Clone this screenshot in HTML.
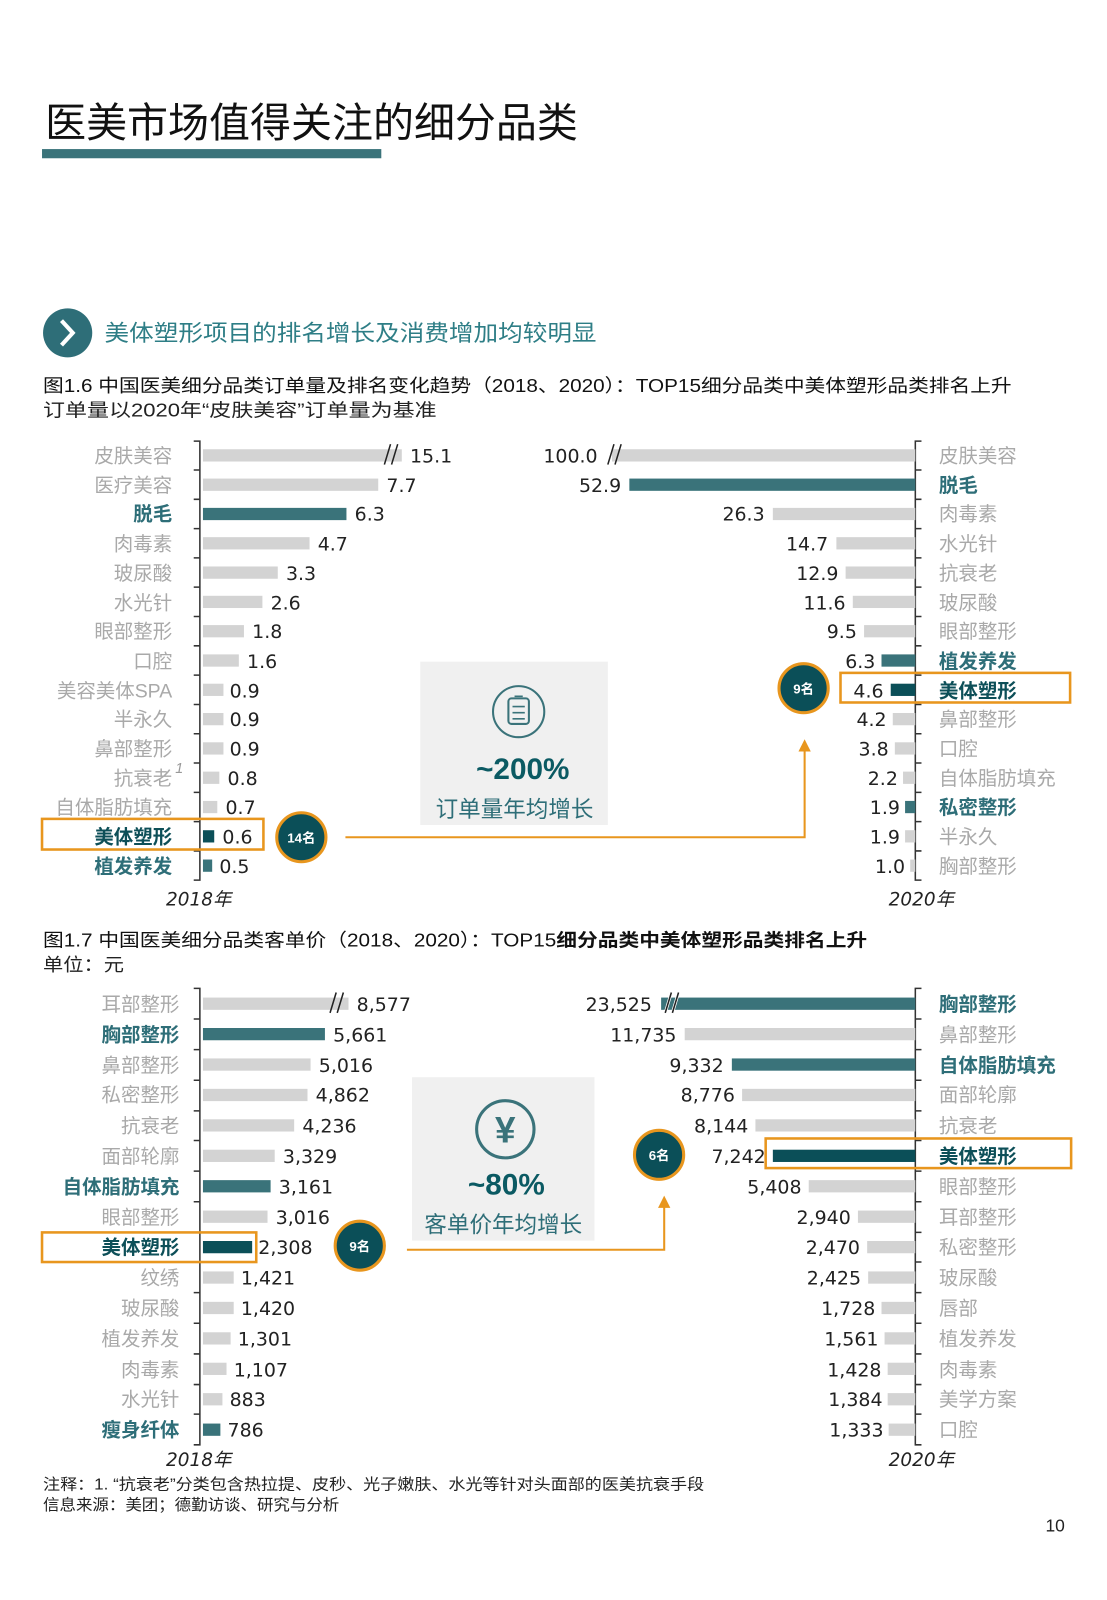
<!DOCTYPE html>
<html><head><meta charset="utf-8"><style>
html,body{margin:0;padding:0;background:#fff;}
svg{display:block;}
text{font-family:"Liberation Sans","Noto Sans CJK SC",sans-serif;}
.lg{fill:#a9a9a9;font-size:19px;}
.lt{fill:#2e6e78;font-size:19px;font-weight:bold;}
.ld{fill:#0d4f58;font-size:19px;font-weight:bold;}
.v{fill:#222;font-size:18.5px;font-family:"DejaVu Sans","Noto Sans CJK SC",sans-serif;}
.g{fill:#d3d3d3;}.t{fill:#3a737a;}.d{fill:#0b4f58;}
.ax{stroke:#333;stroke-width:1.5;fill:none;}
.yr{font-size:18px;font-style:italic;fill:#222;font-family:"DejaVu Sans","Noto Sans CJK SC",sans-serif;}
</style></head><body>
<svg width="1107" height="1600" viewBox="0 0 1080 1567" preserveAspectRatio="none" xmlns="http://www.w3.org/2000/svg">
<text x="44" y="134" font-size="40" fill="#111">医美市场值得关注的细分品类</text>
<rect x="41" y="146" width="331" height="9" fill="#3a737a"/>
<circle cx="66" cy="326" r="24" fill="#2e6e78"/>
<path d="M60 314 L71 326 L60 338" stroke="#fff" stroke-width="4" fill="none"/>
<text x="102" y="334" font-size="22" fill="#2e7e86" textLength="480" lengthAdjust="spacingAndGlyphs">美体塑形项目的排名增长及消费增加均较明显</text>
<text x="42" y="384" font-size="18" fill="#111" textLength="945" lengthAdjust="spacingAndGlyphs">图1.6 中国医美细分品类订单量及排名变化趋势（2018、2020）：TOP15细分品类中美体塑形品类排名上升</text>
<text x="42" y="408" font-size="18" fill="#222" textLength="384" lengthAdjust="spacingAndGlyphs">订单量以2020年“皮肤美容”订单量为基准</text>

<!-- chart1 left -->
<path class="ax" d="M189 432 H195 V862 H189 M189 460.3 H195 M189 489 H195 M189 517.7 H195 M189 546.4 H195 M189 575 H195 M189 603.8 H195 M189 632.5 H195 M189 661.2 H195 M189 690 H195 M189 718.6 H195 M189 747.3 H195 M189 776 H195 M189 804.7 H195 M189 833.4 H195"/>
<g>
<rect class="g" x="198" y="440" width="194" height="12"/><text class="v" x="400" y="453">15.1</text>
<text class="lg" x="168" y="453" text-anchor="end">皮肤美容</text>
<rect class="g" x="198" y="468.7" width="171" height="12"/><text class="v" x="377" y="482">7.7</text><text class="lg" x="168" y="482" text-anchor="end">医疗美容</text>
<rect class="t" x="198" y="497.4" width="140" height="12"/><text class="v" x="346" y="510">6.3</text><text class="lt" x="168" y="510" text-anchor="end">脱毛</text>
<rect class="g" x="198" y="526.1" width="104" height="12"/><text class="v" x="310" y="539">4.7</text><text class="lg" x="168" y="539" text-anchor="end">肉毒素</text>
<rect class="g" x="198" y="554.8" width="73" height="12"/><text class="v" x="279" y="568">3.3</text><text class="lg" x="168" y="568" text-anchor="end">玻尿酸</text>
<rect class="g" x="198" y="583.5" width="58" height="12"/><text class="v" x="264" y="597">2.6</text><text class="lg" x="168" y="597" text-anchor="end">水光针</text>
<rect class="g" x="198" y="612.2" width="40" height="12"/><text class="v" x="246" y="625">1.8</text><text class="lg" x="168" y="625" text-anchor="end">眼部整形</text>
<rect class="g" x="198" y="640.9" width="35" height="12"/><text class="v" x="241" y="654">1.6</text><text class="lg" x="168" y="654" text-anchor="end">口腔</text>
<rect class="g" x="198" y="669.6" width="20" height="12"/><text class="v" x="224" y="683">0.9</text><text class="lg" x="168" y="683" text-anchor="end">美容美体SPA</text>
<rect class="g" x="198" y="698.3" width="20" height="12"/><text class="v" x="224" y="711">0.9</text><text class="lg" x="168" y="711" text-anchor="end">半永久</text>
<rect class="g" x="198" y="727" width="20" height="12"/><text class="v" x="224" y="740">0.9</text><text class="lg" x="168" y="740" text-anchor="end">鼻部整形</text>
<rect class="g" x="198" y="755.7" width="16" height="12"/><text class="v" x="222" y="769">0.8</text><text class="lg" x="168" y="769" text-anchor="end">抗衰老</text><text x="171" y="757" font-size="14" font-style="italic" fill="#999">1</text>
<rect class="g" x="198" y="784.4" width="14" height="12"/><text class="v" x="220" y="797">0.7</text><text class="lg" x="168" y="797" text-anchor="end">自体脂肪填充</text>
<rect class="d" x="198" y="813.1" width="11" height="12"/><text class="v" x="217" y="826">0.6</text><text class="ld" x="168" y="826" text-anchor="end">美体塑形</text>
<rect class="t" x="198" y="841.8" width="9" height="12"/><text class="v" x="214" y="855">0.5</text><text class="lt" x="168" y="855" text-anchor="end">植发养发</text>
</g>
<path d="M375 455 L381 435 M382 455 L388 435" stroke="#222" stroke-width="1.5"/>
<text class="yr" x="162" y="887">2018年</text>

<!-- chart1 right -->
<path class="ax" d="M899 432 H893 V862 H899 M893 460.3 H899 M893 489 H899 M893 517.7 H899 M893 546.4 H899 M893 575 H899 M893 603.8 H899 M893 632.5 H899 M893 661.2 H899 M893 690 H899 M893 718.6 H899 M893 747.3 H899 M893 776 H899 M893 804.7 H899 M893 833.4 H899"/>
<g>
<rect class="g" x="597" y="440" width="296" height="12"/><text class="v" x="583" y="453" text-anchor="end">100.0</text><text class="lg" x="916" y="453">皮肤美容</text>
<rect class="t" x="614" y="468.7" width="279" height="12"/><text class="v" x="606" y="482" text-anchor="end">52.9</text><text class="lt" x="916" y="482">脱毛</text>
<rect class="g" x="754" y="497.4" width="139" height="12"/><text class="v" x="746" y="510" text-anchor="end">26.3</text><text class="lg" x="916" y="510">肉毒素</text>
<rect class="g" x="816" y="526.1" width="77" height="12"/><text class="v" x="808" y="539" text-anchor="end">14.7</text><text class="lg" x="916" y="539">水光针</text>
<rect class="g" x="825" y="554.8" width="68" height="12"/><text class="v" x="818" y="568" text-anchor="end">12.9</text><text class="lg" x="916" y="568">抗衰老</text>
<rect class="g" x="832" y="583.5" width="61" height="12"/><text class="v" x="825" y="597" text-anchor="end">11.6</text><text class="lg" x="916" y="597">玻尿酸</text>
<rect class="g" x="843" y="612.2" width="50" height="12"/><text class="v" x="836" y="625" text-anchor="end">9.5</text><text class="lg" x="916" y="625">眼部整形</text>
<rect class="t" x="860" y="640.9" width="33" height="12"/><text class="v" x="854" y="654" text-anchor="end">6.3</text><text class="lt" x="916" y="654">植发养发</text>
<rect class="d" x="869" y="669.6" width="24" height="12"/><text class="v" x="862" y="683" text-anchor="end">4.6</text><text class="ld" x="916" y="683">美体塑形</text>
<rect class="g" x="871" y="698.3" width="22" height="12"/><text class="v" x="865" y="711" text-anchor="end">4.2</text><text class="lg" x="916" y="711">鼻部整形</text>
<rect class="g" x="873" y="727" width="20" height="12"/><text class="v" x="867" y="740" text-anchor="end">3.8</text><text class="lg" x="916" y="740">口腔</text>
<rect class="g" x="881" y="755.7" width="12" height="12"/><text class="v" x="876" y="769" text-anchor="end">2.2</text><text class="lg" x="916" y="769">自体脂肪填充</text>
<rect class="t" x="883" y="784.4" width="10" height="12"/><text class="v" x="878" y="797" text-anchor="end">1.9</text><text class="lt" x="916" y="797">私密整形</text>
<rect class="g" x="883" y="813.1" width="10" height="12"/><text class="v" x="878" y="826" text-anchor="end">1.9</text><text class="lg" x="916" y="826">半永久</text>
<rect class="g" x="888" y="841.8" width="5" height="12"/><text class="v" x="883" y="855" text-anchor="end">1.0</text><text class="lg" x="916" y="855">胸部整形</text>
</g>
<path d="M593 455 L599 435 M600 455 L606 435" stroke="#222" stroke-width="1.5"/>
<text class="yr" x="867" y="887">2020年</text>

<!-- center box 1 -->
<rect x="410" y="648" width="183" height="160" fill="#f0f0f0"/>
<circle cx="506" cy="697" r="25" fill="none" stroke="#3a737a" stroke-width="2"/>
<rect x="496" y="684" width="20" height="25" rx="3" fill="none" stroke="#3a737a" stroke-width="2"/>
<path d="M500 692 H512 M500 698 H512 M500 704 H512 M502 682 H510" stroke="#3a737a" stroke-width="1.6"/>
<text x="510" y="763" font-size="29" font-weight="bold" fill="#0b5a63" text-anchor="middle" font-family="DejaVu Sans, sans-serif">~200%</text>
<text x="502" y="800" font-size="22" fill="#2e6e78" text-anchor="middle">订单量年均增长</text>

<!-- orange boxes & arrows 1 -->
<rect x="41" y="802" width="216" height="30" fill="none" stroke="#e8961e" stroke-width="2.5"/>
<rect x="820" y="659" width="224" height="29" fill="none" stroke="#e8961e" stroke-width="2.5"/>
<path d="M337 820 H785 V735" stroke="#e8961e" stroke-width="2" fill="none"/>
<path d="M779 736 L785 724 L791 736 Z" fill="#e8961e"/>
<circle cx="294" cy="820" r="24" fill="#0b4f58" stroke="#e8961e" stroke-width="3"/>
<text x="294" y="825" font-size="13" font-weight="bold" fill="#fff" text-anchor="middle">14名</text>
<circle cx="784" cy="674" r="24" fill="#0b4f58" stroke="#e8961e" stroke-width="3"/>
<text x="784" y="679" font-size="13" font-weight="bold" fill="#fff" text-anchor="middle">9名</text>

<!-- chart 2 captions -->
<text x="42" y="927" font-size="18" fill="#111" textLength="804" lengthAdjust="spacingAndGlyphs">图1.7 中国医美细分品类客单价（2018、2020）：TOP15<tspan font-weight="bold">细分品类中美体塑形品类排名上升</tspan></text>
<text x="42" y="951" font-size="18" fill="#222" textLength="79" lengthAdjust="spacingAndGlyphs">单位：元</text>

<!-- chart2 left -->
<path class="ax" d="M189 968 H195 V1415 H189 M189 998 H195 M189 1028 H195 M189 1058 H195 M189 1088 H195 M189 1117 H195 M189 1147 H195 M189 1177 H195 M189 1207 H195 M189 1236 H195 M189 1266 H195 M189 1296 H195 M189 1326 H195 M189 1356 H195 M189 1385 H195"/>
<g>
<rect class="g" x="198" y="977" width="142" height="12"/><text class="v" x="348" y="990">8,577</text><text class="lg" x="175" y="990" text-anchor="end">耳部整形</text>
<rect class="t" x="198" y="1006.8" width="119" height="12"/><text class="v" x="325" y="1020">5,661</text><text class="lt" x="175" y="1020" text-anchor="end">胸部整形</text>
<rect class="g" x="198" y="1036.6" width="105" height="12"/><text class="v" x="311" y="1050">5,016</text><text class="lg" x="175" y="1050" text-anchor="end">鼻部整形</text>
<rect class="g" x="198" y="1066.4" width="102" height="12"/><text class="v" x="308" y="1079">4,862</text><text class="lg" x="175" y="1079" text-anchor="end">私密整形</text>
<rect class="g" x="198" y="1096.2" width="89" height="12"/><text class="v" x="295" y="1109">4,236</text><text class="lg" x="175" y="1109" text-anchor="end">抗衰老</text>
<rect class="g" x="198" y="1126" width="70" height="12"/><text class="v" x="276" y="1139">3,329</text><text class="lg" x="175" y="1139" text-anchor="end">面部轮廓</text>
<rect class="t" x="198" y="1155.8" width="66" height="12"/><text class="v" x="272" y="1169">3,161</text><text class="lt" x="175" y="1169" text-anchor="end">自体脂肪填充</text>
<rect class="g" x="198" y="1185.6" width="63" height="12"/><text class="v" x="269" y="1199">3,016</text><text class="lg" x="175" y="1199" text-anchor="end">眼部整形</text>
<rect class="d" x="198" y="1215.4" width="48" height="12"/><text class="v" x="252" y="1228">2,308</text><text class="ld" x="175" y="1228" text-anchor="end">美体塑形</text>
<rect class="g" x="198" y="1245.2" width="30" height="12"/><text class="v" x="235" y="1258">1,421</text><text class="lg" x="175" y="1258" text-anchor="end">纹绣</text>
<rect class="g" x="198" y="1275" width="30" height="12"/><text class="v" x="235" y="1288">1,420</text><text class="lg" x="175" y="1288" text-anchor="end">玻尿酸</text>
<rect class="g" x="198" y="1304.8" width="27" height="12"/><text class="v" x="232" y="1318">1,301</text><text class="lg" x="175" y="1318" text-anchor="end">植发养发</text>
<rect class="g" x="198" y="1334.6" width="23" height="12"/><text class="v" x="228" y="1348">1,107</text><text class="lg" x="175" y="1348" text-anchor="end">肉毒素</text>
<rect class="g" x="198" y="1364.4" width="19" height="12"/><text class="v" x="224" y="1377">883</text><text class="lg" x="175" y="1377" text-anchor="end">水光针</text>
<rect class="t" x="198" y="1394.2" width="17" height="12"/><text class="v" x="222" y="1407">786</text><text class="lt" x="175" y="1407" text-anchor="end">瘦身纤体</text>
</g>
<path d="M322 992 L328 972 M329 992 L335 972" stroke="#222" stroke-width="1.5"/>
<text class="yr" x="162" y="1436">2018年</text>

<!-- chart2 right -->
<path class="ax" d="M899 968 H893 V1415 H899 M893 998 H899 M893 1028 H899 M893 1058 H899 M893 1088 H899 M893 1117 H899 M893 1147 H899 M893 1177 H899 M893 1207 H899 M893 1236 H899 M893 1266 H899 M893 1296 H899 M893 1326 H899 M893 1356 H899 M893 1385 H899"/>
<g>
<rect class="t" x="645" y="977" width="248" height="12"/><text class="v" x="636" y="990" text-anchor="end">23,525</text><text class="lt" x="916" y="990">胸部整形</text>
<rect class="g" x="668" y="1006.8" width="225" height="12"/><text class="v" x="660" y="1020" text-anchor="end">11,735</text><text class="lg" x="916" y="1020">鼻部整形</text>
<rect class="t" x="714" y="1036.6" width="179" height="12"/><text class="v" x="706" y="1050" text-anchor="end">9,332</text><text class="lt" x="916" y="1050">自体脂肪填充</text>
<rect class="g" x="724" y="1066.4" width="169" height="12"/><text class="v" x="717" y="1079" text-anchor="end">8,776</text><text class="lg" x="916" y="1079">面部轮廓</text>
<rect class="g" x="737" y="1096.2" width="156" height="12"/><text class="v" x="730" y="1109" text-anchor="end">8,144</text><text class="lg" x="916" y="1109">抗衰老</text>
<rect class="d" x="754" y="1126" width="139" height="12"/><text class="v" x="747" y="1139" text-anchor="end">7,242</text><text class="ld" x="916" y="1139">美体塑形</text>
<rect class="g" x="789" y="1155.8" width="104" height="12"/><text class="v" x="782" y="1169" text-anchor="end">5,408</text><text class="lg" x="916" y="1169">眼部整形</text>
<rect class="g" x="837" y="1185.6" width="56" height="12"/><text class="v" x="830" y="1199" text-anchor="end">2,940</text><text class="lg" x="916" y="1199">耳部整形</text>
<rect class="g" x="846" y="1215.4" width="47" height="12"/><text class="v" x="839" y="1228" text-anchor="end">2,470</text><text class="lg" x="916" y="1228">私密整形</text>
<rect class="g" x="847" y="1245.2" width="46" height="12"/><text class="v" x="840" y="1258" text-anchor="end">2,425</text><text class="lg" x="916" y="1258">玻尿酸</text>
<rect class="g" x="860" y="1275" width="33" height="12"/><text class="v" x="854" y="1288" text-anchor="end">1,728</text><text class="lg" x="916" y="1288">唇部</text>
<rect class="g" x="863" y="1304.8" width="30" height="12"/><text class="v" x="857" y="1318" text-anchor="end">1,561</text><text class="lg" x="916" y="1318">植发养发</text>
<rect class="g" x="866" y="1334.6" width="27" height="12"/><text class="v" x="860" y="1348" text-anchor="end">1,428</text><text class="lg" x="916" y="1348">肉毒素</text>
<rect class="g" x="866" y="1364.4" width="27" height="12"/><text class="v" x="861" y="1377" text-anchor="end">1,384</text><text class="lg" x="916" y="1377">美学方案</text>
<rect class="g" x="867" y="1394.2" width="26" height="12"/><text class="v" x="862" y="1407" text-anchor="end">1,333</text><text class="lg" x="916" y="1407">口腔</text>
</g>
<path d="M649 992 L655 972 M656 992 L662 972" stroke="#fff" stroke-width="3"/>
<path d="M649 992 L655 972 M656 992 L662 972" stroke="#222" stroke-width="1.5"/>
<text class="yr" x="867" y="1436">2020年</text>

<!-- center box 2 -->
<rect x="402" y="1055" width="178" height="160" fill="#f0f0f0"/>
<circle cx="493" cy="1106" r="28" fill="none" stroke="#3a737a" stroke-width="3"/>
<text x="493" y="1119" font-size="36" font-weight="bold" fill="#3a737a" text-anchor="middle">¥</text>
<text x="494" y="1170" font-size="29" font-weight="bold" fill="#0b5a63" text-anchor="middle" font-family="DejaVu Sans, sans-serif">~80%</text>
<text x="491" y="1207" font-size="22" fill="#2e6e78" text-anchor="middle">客单价年均增长</text>

<rect x="41" y="1207" width="209" height="29" fill="none" stroke="#e8961e" stroke-width="2.5"/>
<rect x="747" y="1115" width="298" height="29" fill="none" stroke="#e8961e" stroke-width="2.5"/>
<path d="M397 1224 H648 V1182" stroke="#e8961e" stroke-width="2" fill="none"/>
<path d="M642 1183 L648 1171 L654 1183 Z" fill="#e8961e"/>
<circle cx="351" cy="1220" r="24" fill="#0b4f58" stroke="#e8961e" stroke-width="3"/>
<text x="351" y="1225" font-size="13" font-weight="bold" fill="#fff" text-anchor="middle">9名</text>
<circle cx="643" cy="1131" r="24" fill="#0b4f58" stroke="#e8961e" stroke-width="3"/>
<text x="643" y="1136" font-size="13" font-weight="bold" fill="#fff" text-anchor="middle">6名</text>

<text x="42" y="1459" font-size="15" fill="#222" textLength="645" lengthAdjust="spacingAndGlyphs">注释：1. “抗衰老”分类包含热拉提、皮秒、光子嫩肤、水光等针对头面部的医美抗衰手段</text>
<text x="42" y="1479" font-size="15" fill="#222" textLength="289" lengthAdjust="spacingAndGlyphs">信息来源：美团；德勤访谈、研究与分析</text>
<text x="1020" y="1500" font-size="17" fill="#222">10</text>
</svg>
</body></html>
